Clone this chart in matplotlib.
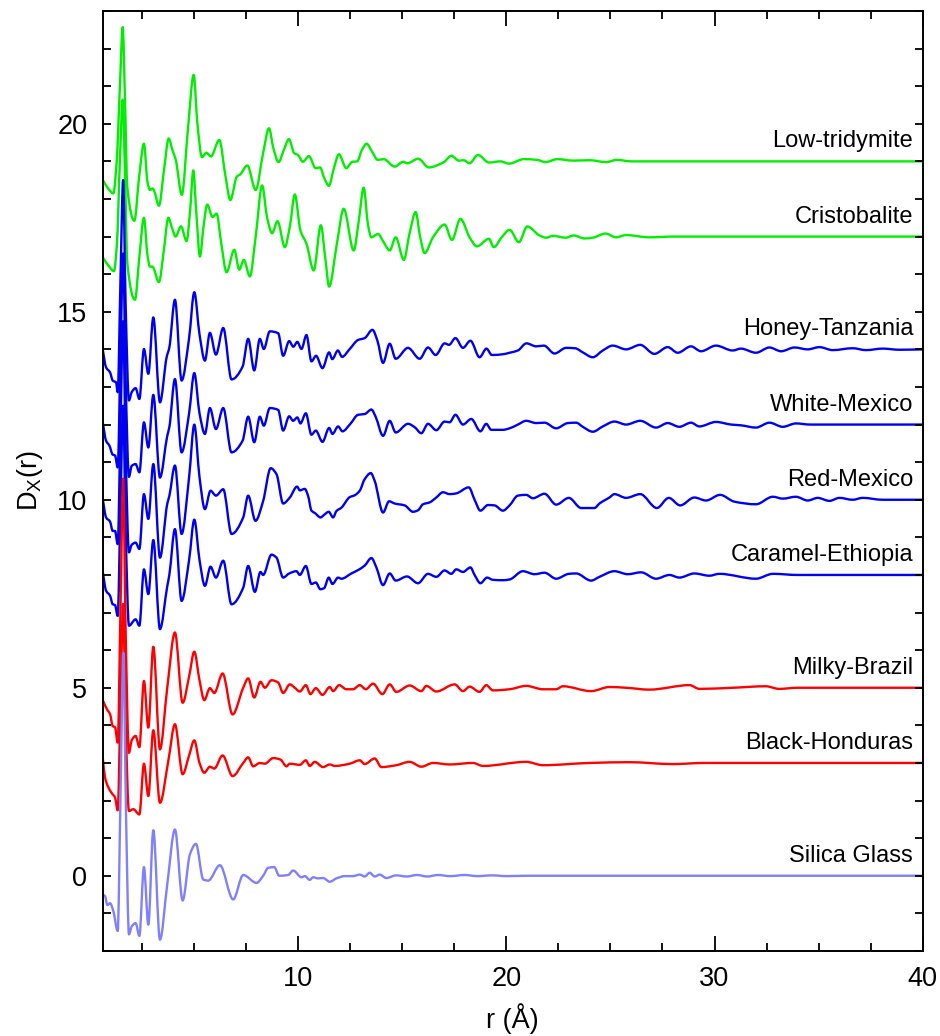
import matplotlib
matplotlib.use("Agg")
import matplotlib.pyplot as plt
from matplotlib.ticker import MultipleLocator
from matplotlib.path import Path
from matplotlib.patches import PathPatch

plt.rcParams['font.family'] = ['Liberation Sans', 'DejaVu Sans']
plt.rcParams['mathtext.fontset'] = 'custom'
plt.rcParams['mathtext.rm'] = 'Liberation Sans'
plt.rcParams['mathtext.it'] = 'Liberation Sans'

# ---------------------------------------------------------------------------
# Differential correlation functions D_X(r); each curve is stored without its
# vertical offset, offsets are applied when plotting.
# ---------------------------------------------------------------------------
samples = ["Low-tridymite", "Cristobalite", "Honey-Tanzania", "White-Mexico",
           "Red-Mexico", "Caramel-Ethiopia", "Milky-Brazil", "Black-Honduras",
           "Silica Glass"]
offsets = [19, 17, 14, 12, 10, 8, 5, 3, 0]
colors = ["#00ee00", "#00ee00", "#0000f0", "#0000f0", "#0000f0", "#0000f0",
          "#ff0000", "#ff0000", "#8080ff"]

r_lt = [0.6, 0.87, 1.11, 1.27, 1.43, 1.56, 1.67, 1.78, 2.12, 2.35,
        2.58, 2.75, 2.87, 3.0, 3.07, 3.30, 3.55, 3.77, 3.95, 4.11,
        4.40, 4.7, 4.97, 5.15, 5.37, 5.58, 5.80, 6.2, 6.5, 6.73,
        7.05, 7.2, 7.55, 7.95, 8.3, 8.59, 8.8, 9.05, 9.3, 9.55,
        9.8, 9.98, 10.22, 10.51, 10.83, 11.04, 11.25, 11.47, 11.7, 11.95,
        12.3, 12.6, 12.83, 13.05, 13.28, 13.55, 13.82, 14.1, 14.63, 15.04,
        15.24, 15.76, 16.27, 16.99, 17.36, 17.71, 17.95, 18.23, 18.63, 19.16,
        19.72, 20.12, 20.84, 21.48, 21.88, 22.44, 23.2, 24.0, 24.8, 25.3,
        26.0, 40.0]
d_lt = [-0.49, -0.73, -0.85, 0.0, 2.07, 3.57, 1.62, -0.69, -1.58, -0.4,
        0.47, -0.55, -0.76, -0.72, -0.78, -1.18, -0.2, 0.61, 0.3, 0.04,
        -0.89, 0.9, 2.3, 1.0, 0.11, 0.23, 0.13, 0.57, -0.4, -1.03,
        -0.4, -0.35, -0.11, -0.76, 0.2, 0.88, 0.35, -0.02, 0.3, 0.59,
        0.22, 0.17, -0.01, 0.14, -0.18, -0.16, -0.45, -0.65, -0.2, 0.19,
        -0.18, -0.01, 0.0, 0.3, 0.47, 0.25, 0.04, 0.06, -0.14, -0.01,
        -0.05, 0.07, -0.16, -0.02, 0.15, 0.02, 0.03, -0.05, 0.17, -0.03,
        0.0, -0.06, 0.06, 0.04, -0.02, 0.06, 0.02, 0.03, -0.02, 0.04,
        0.0, 0.0]

r_cr = [0.6, 0.87, 1.14, 1.28, 1.43, 1.56, 1.67, 1.78, 2.15, 2.35,
        2.58, 2.75, 2.87, 3.0, 3.05, 3.30, 3.55, 3.75, 3.92, 4.10,
        4.36, 4.63, 4.80, 4.95, 5.1, 5.27, 5.45, 5.62, 5.88, 6.07,
        6.3, 6.55, 6.92, 7.16, 7.38, 7.67, 7.95, 8.26, 8.5, 8.74,
        9.0, 9.35, 9.6, 9.83, 10.1, 10.39, 10.74, 11.08, 11.3, 11.48,
        11.85, 12.18, 12.66, 12.9, 13.14, 13.35, 13.51, 13.83, 14.1, 14.39,
        14.68, 15.07, 15.35, 15.64, 15.85, 16.07, 16.47, 17.03, 17.38, 17.79,
        18.23, 18.58, 19.16, 19.39, 19.8, 20.15, 20.6, 21.0, 21.59, 21.91,
        22.23, 22.84, 23.23, 23.75, 24.15, 24.76, 25.27, 25.75, 26.87, 28.0,
        40.0]
d_cr = [-0.55, -0.77, -0.92, -0.2, 2.1, 3.64, 1.65, -0.7, -1.68, -0.6,
        0.5, -0.5, -0.8, -0.8, -0.85, -1.21, -0.3, 0.5, 0.25, 0.0,
        0.27, -0.12, 0.7, 1.76, 0.6, -0.53, 0.3, 0.85, 0.52, 0.61,
        -0.2, -0.95, -0.35, -0.88, -0.62, -1.06, 0.0, 1.36, 0.5, 0.09,
        0.41, -0.28, 0.3, 1.12, 0.16, -0.19, -0.9, 0.3, -0.6, -1.33,
        -0.2, 0.74, -0.37, 0.4, 1.3, 0.3, -0.02, 0.07, -0.15, -0.37,
        -0.02, -0.62, 0.1, 0.65, 0.0, -0.44, -0.02, 0.32, -0.09, 0.47,
        -0.02, -0.26, -0.06, -0.28, 0.0, 0.18, -0.15, 0.27, 0.03, -0.03,
        0.02, -0.03, 0.03, -0.05, -0.03, 0.08, -0.02, 0.04, -0.02, 0.0,
        0.0]

r_ht = [0.6, 0.76, 0.95, 1.08, 1.24, 1.32, 1.45, 1.58, 1.70, 1.86,
        1.99, 2.18, 2.36, 2.58, 2.79, 3.03, 3.35, 3.67, 3.80, 4.07,
        4.39, 4.75, 5.0, 5.25, 5.51, 5.75, 6.04, 6.39, 6.79, 7.32,
        7.59, 7.88, 8.15, 8.34, 8.63, 9.03, 9.27, 9.56, 9.76, 9.95,
        10.15, 10.39, 10.63, 10.85, 11.16, 11.48, 11.63, 11.9, 12.1, 12.47,
        12.87, 13.19, 13.56, 13.8, 14.07, 14.39, 14.68, 15.27, 15.83, 16.23,
        16.6, 17.03, 17.24, 17.55, 17.91, 18.27, 18.71, 19.04, 19.3, 19.83,
        20.15, 20.55, 20.96, 21.43, 21.8, 22.31, 22.87, 23.3, 23.67, 24.15,
        24.63, 25.11, 25.75, 26.43, 27.11, 27.75, 28.23, 28.87, 29.35, 30.07,
        30.87, 31.27, 31.99, 32.64, 33.2, 33.84, 34.48, 35.04, 35.68, 36.64,
        37.28, 38.08, 38.88, 40.0]
d_ht = [-0.01, -0.48, -0.61, -0.83, -0.88, -1.14, 1.8, 4.5, 1.2, -1.36,
        -1.14, -1.03, -1.32, 0.01, -0.65, 0.85, -1.41, -0.21, 0.05, 1.32,
        -0.83, 0.3, 1.52, 0.4, -0.3, 0.44, -0.14, 0.57, -0.8, -0.46,
        0.28, -0.56, 0.28, 0.01, 0.48, 0.43, -0.17, 0.22, 0.07, 0.2,
        0.01, 0.38, -0.32, -0.17, -0.5, -0.08, -0.26, -0.03, -0.2, 0.01,
        0.25, 0.3, 0.52, 0.23, -0.36, 0.15, -0.25, 0.04, -0.25, 0.05,
        -0.15, 0.16, 0.12, 0.3, 0.04, 0.23, -0.21, 0.02, -0.15, -0.13,
        -0.09, -0.03, 0.16, 0.08, 0.1, -0.11, 0.04, 0.03, -0.08, -0.21,
        -0.03, 0.1, 0.0, 0.12, -0.12, 0.06, -0.09, 0.08, -0.05, 0.1,
        -0.03, 0.02, -0.09, 0.05, -0.05, 0.05, 0.0, 0.06, -0.02, 0.03,
        -0.02, 0.02, -0.01, 0.0]

r_wm = [0.6, 0.76, 0.92, 1.08, 1.19, 1.32, 1.45, 1.58, 1.70, 1.86,
        1.99, 2.18, 2.36, 2.58, 2.79, 3.03, 3.35, 3.70, 3.80, 4.07,
        4.39, 4.75, 5.0, 5.25, 5.51, 5.75, 6.04, 6.39, 6.79, 7.32,
        7.59, 7.88, 8.15, 8.34, 8.63, 9.03, 9.27, 9.56, 9.75, 9.95,
        10.10, 10.36, 10.63, 10.84, 11.16, 11.48, 11.64, 11.91, 12.12, 12.5,
        12.87, 13.19, 13.51, 13.72, 14.07, 14.39, 14.68, 15.27, 15.59, 15.91,
        16.23, 16.63, 17.03, 17.27, 17.55, 17.91, 18.31, 18.75, 19.03, 19.27,
        19.83, 20.15, 20.55, 20.95, 21.43, 21.83, 22.39, 22.95, 23.35, 23.67,
        24.15, 24.63, 25.19, 25.75, 26.43, 27.19, 27.75, 28.31, 28.87, 29.27,
        30.07, 30.8, 31.27, 31.99, 32.64, 33.28, 33.91, 34.6, 40.0]
d_wm = [0.06, -0.43, -0.56, -0.8, -0.82, -1.14, 1.8, 4.55, 1.2, -1.39,
        -1.1, -1.05, -1.27, 0.06, -0.61, 0.79, -1.41, -0.3, -0.07, 1.21,
        -0.74, 0.3, 1.37, 0.3, -0.25, 0.44, -0.12, 0.44, -0.74, -0.43,
        0.21, -0.47, 0.21, -0.03, 0.44, 0.39, -0.16, 0.22, 0.1, 0.19,
        0.03, 0.3, -0.27, -0.16, -0.46, -0.09, -0.25, -0.05, -0.18, 0.02,
        0.26, 0.28, 0.4, 0.2, -0.3, 0.1, -0.21, 0.02, -0.07, -0.23,
        0.02, -0.15, 0.08, 0.06, 0.26, 0.0, 0.15, -0.18, 0.02, -0.14,
        -0.14, -0.1, 0.0, 0.1, 0.04, 0.05, -0.1, 0.04, 0.05, -0.06,
        -0.19, -0.05, 0.08, 0.0, 0.1, -0.08, 0.04, -0.06, 0.05, -0.05,
        0.07, 0.0, -0.02, -0.08, 0.05, -0.06, 0.03, 0.0, 0.0]

r_rm = [0.6, 0.76, 0.95, 1.08, 1.19, 1.32, 1.45, 1.58, 1.70, 1.86,
        1.99, 2.18, 2.36, 2.58, 2.79, 3.03, 3.35, 3.70, 3.80, 4.07,
        4.39, 4.75, 5.0, 5.25, 5.51, 5.78, 6.04, 6.39, 6.79, 7.35,
        7.59, 7.94, 8.31, 8.67, 8.95, 9.27, 9.59, 9.94, 10.07, 10.31,
        10.47, 10.63, 10.79, 11.07, 11.24, 11.46, 11.67, 11.83, 12.07, 12.47,
        12.71, 12.95, 13.19, 13.48, 13.67, 14.07, 14.36, 14.63, 15.11, 15.51,
        15.75, 15.99, 16.31, 16.63, 16.95, 17.27, 17.59, 18.19, 18.47, 18.75,
        19.11, 19.43, 19.83, 20.15, 20.55, 20.95, 21.27, 21.83, 22.39, 23.0,
        23.59, 24.23, 24.47, 24.95, 25.19, 25.75, 26.43, 27.23, 27.8, 28.35,
        29.03, 29.59, 30.27, 30.95, 31.99, 32.8, 33.28, 33.91, 34.48, 34.96,
        35.52, 36.0, 36.64, 37.12, 38.08, 40.0]
d_rm = [0.02, -0.47, -0.58, -0.83, -0.83, -1.18, 1.9, 4.75, 1.3, -1.4,
        -1.2, -1.14, -1.31, 0.15, -0.51, 0.95, -1.54, -0.11, 0.1, 0.91,
        -0.91, 0.6, 2.0, 0.6, -0.25, 0.24, 0.11, 0.28, -0.91, -0.47,
        0.11, -0.56, -0.03, 0.84, 0.68, -0.1, 0.06, 0.35, 0.25, 0.29,
        0.1, -0.29, -0.35, -0.47, -0.4, -0.32, -0.47, -0.3, -0.21, 0.07,
        0.12, 0.24, 0.55, 0.71, 0.5, -0.34, -0.04, -0.1, -0.15, -0.32,
        -0.28, -0.12, -0.07, 0.06, 0.2, 0.15, 0.17, 0.33, 0.0, -0.29,
        -0.14, -0.15, -0.29, -0.15, 0.11, 0.13, 0.04, 0.16, -0.13, 0.05,
        -0.22, -0.22, -0.1, 0.06, 0.15, 0.05, 0.15, -0.22, 0.05, -0.15,
        0.06, -0.02, 0.13, -0.05, -0.12, 0.08, 0.03, 0.08, -0.02, 0.05,
        -0.03, 0.05, 0.0, 0.05, 0.0, 0.0]

r_ce = [0.6, 0.76, 0.95, 1.08, 1.19, 1.32, 1.45, 1.58, 1.70, 1.86,
        2.18, 2.36, 2.58, 2.79, 3.03, 3.35, 3.70, 3.80, 4.07, 4.39,
        4.75, 5.0, 5.25, 5.51, 5.78, 6.04, 6.39, 6.79, 7.35, 7.59,
        7.91, 8.18, 8.31, 8.71, 8.95, 9.27, 9.56, 9.91, 10.07, 10.36,
        10.63, 10.84, 11.06, 11.24, 11.46, 11.64, 11.91, 12.07, 12.55, 12.87,
        13.19, 13.51, 13.75, 14.07, 14.39, 14.68, 15.22, 15.75, 16.23, 16.63,
        17.03, 17.35, 17.59, 17.91, 18.27, 18.47, 18.75, 19.07, 19.35, 19.83,
        20.15, 20.79, 21.35, 21.83, 22.39, 23.0, 23.35, 24.07, 24.47, 25.19,
        25.83, 26.47, 27.19, 27.83, 28.31, 29.03, 29.75, 30.23, 31.99, 32.8,
        34.0, 40.0]
d_ce = [0.09, -0.42, -0.55, -0.78, -0.8, -1.09, 1.8, 4.5, 1.2, -1.35,
        -1.18, -1.35, 0.15, -0.51, 0.93, -1.44, -0.3, 0.0, 1.22, -0.69,
        0.4, 1.47, 0.4, -0.29, 0.22, -0.07, 0.38, -0.78, -0.34, 0.24,
        -0.45, 0.08, 0.0, 0.54, 0.46, -0.07, 0.04, 0.1, 0.0, 0.24,
        -0.24, -0.2, -0.38, -0.35, -0.07, -0.24, -0.07, -0.1, 0.04, 0.13,
        0.25, 0.45, 0.2, -0.27, 0.04, -0.15, -0.04, -0.22, 0.03, -0.05,
        0.12, 0.03, 0.15, 0.08, 0.2, 0.0, -0.22, -0.07, -0.13, -0.14,
        -0.12, 0.1, 0.02, 0.06, -0.1, 0.03, 0.04, -0.15, -0.05, 0.1,
        0.02, 0.07, -0.1, 0.0, -0.07, 0.04, -0.02, 0.03, -0.1, 0.03,
        0.0, 0.0]

r_mb = [0.6, 0.8, 0.95, 1.08, 1.19, 1.32, 1.45, 1.58, 1.70, 1.86,
        1.99, 2.18, 2.36, 2.58, 2.79, 3.03, 3.35, 3.70, 4.07, 4.44,
        4.75, 5.0, 5.25, 5.48, 5.75, 5.96, 6.36, 6.84, 7.35, 7.59,
        7.88, 8.18, 8.39, 8.71, 9.03, 9.27, 9.59, 9.83, 10.07, 10.36,
        10.58, 10.84, 11.16, 11.51, 11.67, 11.96, 12.31, 12.63, 12.95, 13.24,
        13.59, 14.04, 14.39, 14.71, 15.35, 15.91, 16.15, 16.63, 17.51, 17.91,
        18.23, 18.71, 19.03, 19.35, 20.15, 20.95, 21.75, 22.39, 22.71, 24.07,
        24.95, 25.75, 26.87, 28.8, 29.27, 30.87, 32.47, 33.1, 34.0, 40.0]
d_mb = [-0.33, -0.57, -0.7, -1.02, -1.05, -1.46, 2.0, 5.56, 1.5, -1.73,
        -1.4, -1.28, -1.58, 0.18, -1.06, 1.09, -1.64, 0.0, 1.47, -0.4,
        0.3, 0.96, 0.2, -0.33, -0.01, -0.14, 0.38, -0.71, 0.0, 0.25,
        -0.26, 0.16, 0.0, 0.2, 0.14, -0.14, 0.09, 0.0, -0.1, 0.07,
        -0.17, -0.01, -0.19, 0.02, -0.09, 0.07, -0.04, -0.04, 0.07, -0.04,
        0.11, -0.17, 0.09, -0.11, 0.06, -0.09, 0.05, -0.1, 0.09, -0.09,
        0.03, -0.11, 0.07, -0.07, -0.04, 0.05, -0.04, -0.04, 0.04, -0.09,
        0.02, 0.0, -0.05, 0.07, -0.03, 0.0, 0.04, -0.03, 0.0, 0.0]

r_bh = [0.6, 0.71, 0.87, 1.03, 1.19, 1.32, 1.45, 1.58, 1.70, 1.86,
        2.07, 2.36, 2.58, 2.79, 3.03, 3.35, 3.75, 4.07, 4.44, 4.75,
        5.0, 5.25, 5.48, 5.75, 5.96, 6.36, 6.84, 7.35, 7.59, 7.83,
        8.15, 8.39, 8.79, 9.14, 9.43, 9.59, 10.07, 10.36, 10.55, 10.79,
        11.19, 11.51, 11.75, 12.47, 12.95, 13.19, 13.67, 13.99, 14.71, 15.35,
        15.91, 16.47, 17.27, 18.39, 18.87, 20.95, 21.75, 24.0, 25.9, 28.0,
        29.5, 40.0]
d_bh = [0.14, -0.39, -0.65, -0.8, -0.92, -1.26, 1.5, 4.23, 1.1, -1.28,
        -1.23, -1.37, -0.02, -0.88, 0.87, -1.06, 0.05, 1.03, -0.3, 0.2,
        0.6, 0.0, -0.26, -0.1, -0.15, 0.2, -0.35, 0.0, 0.15, -0.09,
        0.0, -0.02, 0.13, 0.09, -0.09, -0.02, -0.05, 0.07, -0.08, 0.03,
        -0.11, -0.04, -0.08, -0.02, 0.07, -0.03, 0.12, -0.11, -0.06, 0.03,
        -0.1, 0.0, -0.04, 0.0, -0.08, 0.03, -0.06, 0.0, 0.02, -0.03,
        0.0, 0.0]

r_sg = [0.6, 0.71, 0.82, 0.95, 1.11, 1.32, 1.45, 1.59, 1.72, 1.86,
        1.99, 2.18, 2.36, 2.58, 2.79, 3.03, 3.35, 3.70, 4.07, 4.44,
        4.79, 5.08, 5.43, 5.67, 6.23, 6.87, 7.35, 7.99, 8.31, 8.55,
        8.84, 9.08, 9.51, 9.75, 10.15, 10.31, 10.55, 10.71, 10.95, 11.19,
        11.51, 11.83, 12.23, 12.63, 12.95, 13.19, 13.43, 13.67, 13.91, 14.23,
        14.7, 15.2, 15.7, 16.2, 16.7, 17.3, 18.0, 18.6, 19.3, 20.0,
        21.0, 40.0]
d_sg = [-0.5, -0.54, -0.78, -0.73, -0.94, -1.47, 2.0, 5.93, 1.6, -1.56,
        -1.35, -1.26, -1.6, 0.23, -1.3, 1.21, -1.7, -0.23, 1.23, -0.66,
        0.57, 0.85, -0.1, -0.13, 0.28, -0.63, 0.02, -0.19, 0.0, 0.21,
        0.23, 0.0, 0.02, 0.14, -0.04, -0.01, -0.11, -0.04, -0.07, -0.06,
        -0.16, -0.07, -0.01, -0.01, 0.03, -0.02, 0.08, -0.02, 0.03, -0.06,
        0.01, -0.02, 0.02, -0.02, 0.02, -0.01, 0.02, -0.01, 0.01, -0.01,
        0.0, 0.0]

r_series = [r_lt, r_cr, r_ht, r_wm, r_rm, r_ce, r_mb, r_bh, r_sg]
d_series = [d_lt, d_cr, d_ht, d_wm, d_rm, d_ce, d_mb, d_bh, d_sg]


def smooth_path(xs, ys):
    """Bezier path through the given points (shape-preserving cubic
    connection, zero slope at local extrema)."""
    n = len(xs)
    h = [xs[i + 1] - xs[i] for i in range(n - 1)]
    s = [(ys[i + 1] - ys[i]) / h[i] for i in range(n - 1)]
    m = [0.0] * n
    m[0], m[-1] = s[0], s[-1]
    for i in range(1, n - 1):
        if s[i - 1] * s[i] <= 0:
            m[i] = 0.0
        else:
            w1 = 2 * h[i] + h[i - 1]
            w2 = h[i] + 2 * h[i - 1]
            m[i] = (w1 + w2) / (w1 / s[i - 1] + w2 / s[i])
    verts = [(xs[0], ys[0])]
    codes = [Path.MOVETO]
    for i in range(n - 1):
        d = h[i] / 3.0
        verts += [(xs[i] + d, ys[i] + m[i] * d),
                  (xs[i + 1] - d, ys[i + 1] - m[i + 1] * d),
                  (xs[i + 1], ys[i + 1])]
        codes += [Path.CURVE4] * 3
    return Path(verts, codes)


# ---------------------------------------------------------------------------
fig = plt.figure(figsize=(9.4, 10.36), dpi=100)
ax = fig.add_axes([0.1093, 0.0821, 0.8722, 0.9073])

for name, off, col, rr, dd in zip(samples, offsets, colors, r_series, d_series):
    yy = [v + off for v in dd]
    ax.add_patch(PathPatch(smooth_path(rr, yy), facecolor='none',
                           edgecolor=col, lw=1.7, joinstyle='round'))
    ax.text(39.55, off + 0.37, name, ha='right', va='baseline', fontsize=17)

ax.set_xlim(0.6, 40)
ax.set_ylim(-2, 23)
ax.xaxis.set_major_locator(MultipleLocator(10))
ax.xaxis.set_minor_locator(MultipleLocator(2.5))
ax.yaxis.set_major_locator(MultipleLocator(5))
ax.yaxis.set_minor_locator(MultipleLocator(1))

ax.tick_params(which='both', direction='in', top=True, right=True,
               width=1.3, labelsize=19.5, pad=11)
ax.tick_params(axis='x', which='major', length=10.5)
ax.tick_params(axis='x', which='minor', length=5.5)
ax.tick_params(axis='y', which='both', length=5.5)
for sp in ax.spines.values():
    sp.set_linewidth(1.4)

ax.set_xlabel('r (Å)', fontsize=19.5, labelpad=8)
ax.set_ylabel(r'D$_\mathregular{X}$(r)', fontsize=19.5, labelpad=9)

fig.savefig('out.png', dpi=100)
